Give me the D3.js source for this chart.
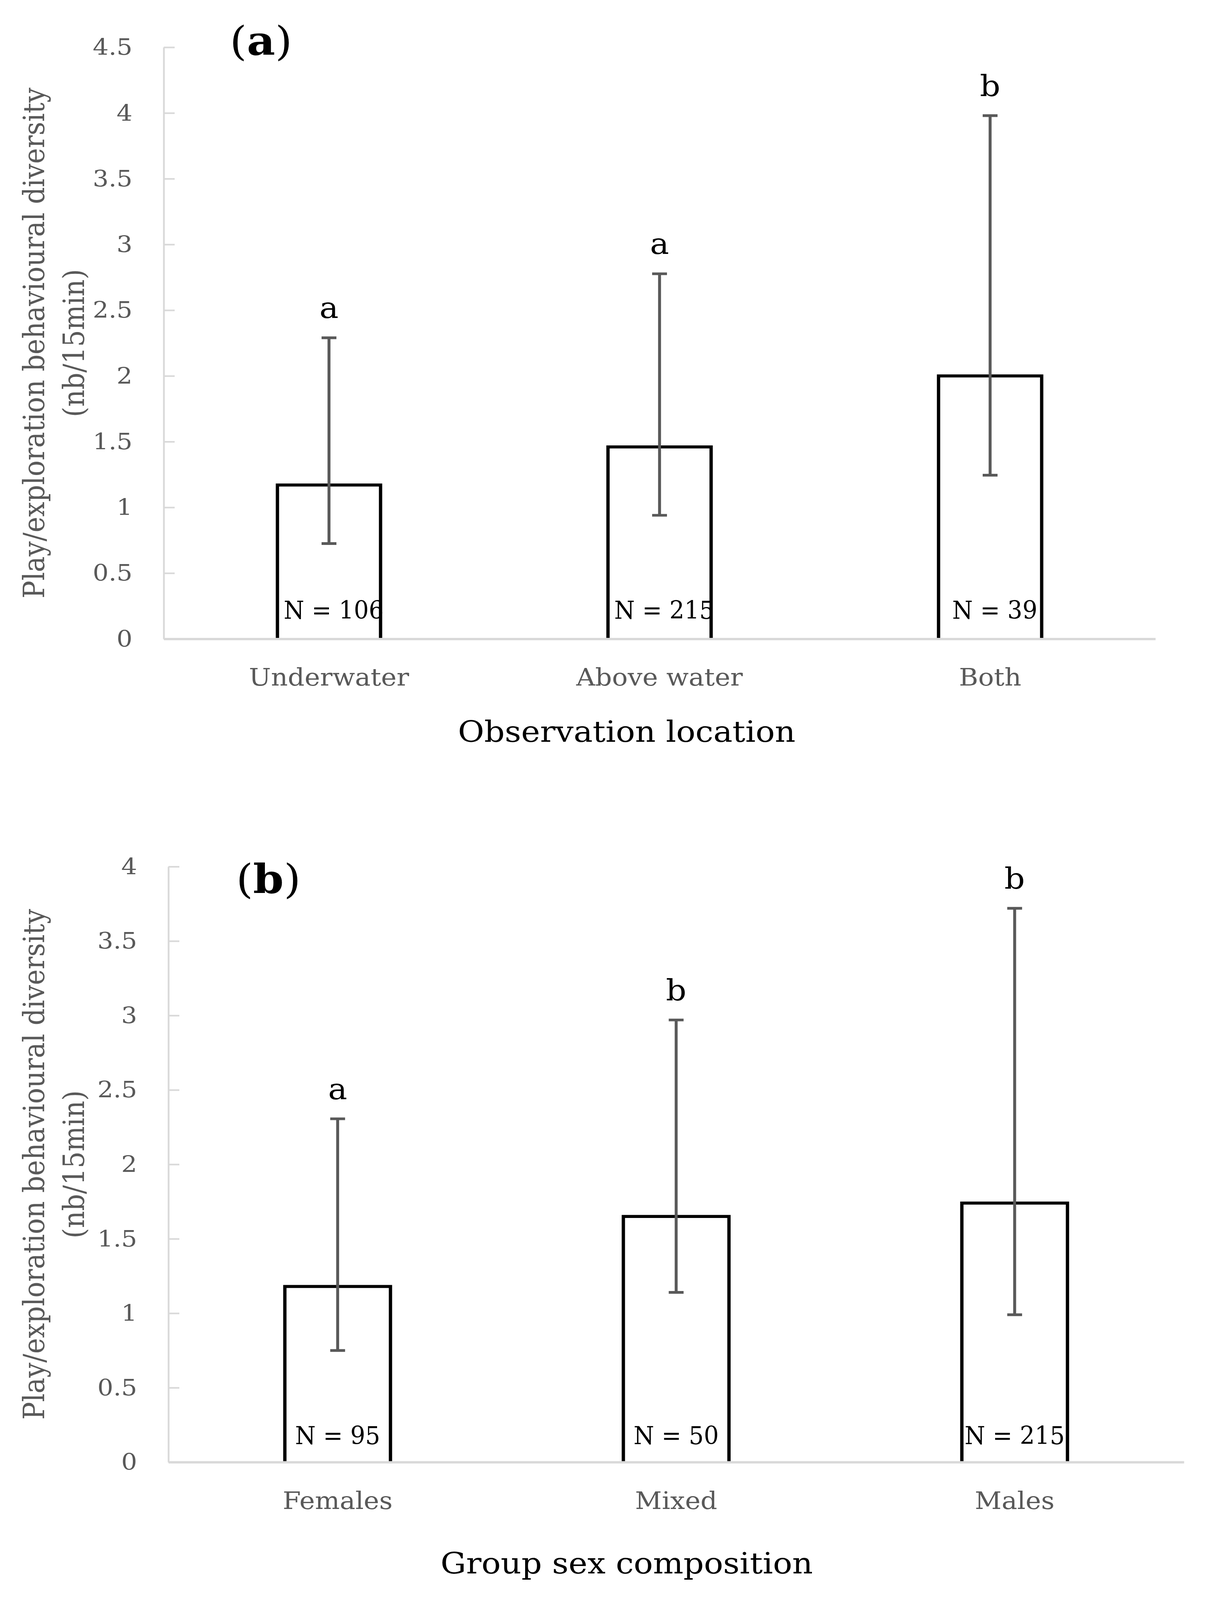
<!DOCTYPE html>
<html>
<head>
<meta charset="utf-8">
<script src="https://cdn.jsdelivr.net/npm/d3@7"></script>
<style>
  html, body { margin: 0; padding: 0; background: #fff; overflow: hidden; }
  svg { display: block; }
</style>
</head>
<body>
<svg id="chart"></svg>
<script>
'use strict';

// Panel (a): observation location
var locationCategories = ['Underwater', 'Above water', 'Both'];
var locationMeans = [1.17, 1.46, 2.0];
var locationLower = [0.725, 0.94, 1.245];
var locationUpper = [2.29, 2.777, 3.98];
var locationN = ['N = 106', 'N = 215', 'N = 39'];
var locationLetters = ['a', 'a', 'b'];
var locationTicks = [0, 0.5, 1, 1.5, 2, 2.5, 3, 3.5, 4, 4.5];

// Panel (b): group sex composition
var sexCategories = ['Females', 'Mixed', 'Males'];
var sexMeans = [1.18, 1.65, 1.74];
var sexLower = [0.75, 1.14, 0.99];
var sexUpper = [2.306, 2.97, 3.72];
var sexN = ['N = 95', 'N = 50', 'N = 215'];
var sexLetters = ['a', 'b', 'b'];
var sexTicks = [0, 0.5, 1, 1.5, 2, 2.5, 3, 3.5, 4];

var yTitleLines = ['Play/exploration behavioural diversity', '(nb/15min)'];

var FONT = "'DejaVu Serif', 'Liberation Serif', serif";
var GREY = '#595959';
var AXIS = '#d9d9d9';
var W = 3107, H = 4468;

// Drawing is laid out on a 3107x4468 canvas and fitted to the window
var svg = d3.select('#chart')
  .attr('width', window.innerWidth || W)
  .attr('height', window.innerHeight || H)
  .attr('viewBox', '0 0 ' + W + ' ' + H)
  .attr('preserveAspectRatio', 'none');
svg.append('rect').attr('width', W).attr('height', H).attr('fill', '#fff');

function drawPanel(cfg) {
  var g = svg.append('g').attr('font-family', FONT);

  var x = d3.scaleBand()
    .domain(cfg.categories)
    .range([cfg.left, cfg.right])
    .paddingInner(0.688)
    .paddingOuter(0.344);

  var y = d3.scaleLinear()
    .domain([0, cfg.yMax])
    .range([cfg.bottom, cfg.top]);

  // Y axis, ticks pointing inward
  var yAxis = g.append('g')
    .attr('transform', 'translate(' + cfg.left + ',0)')
    .call(d3.axisLeft(y)
      .tickValues(cfg.ticks)
      .tickFormat(d3.format('~g'))
      .tickSizeInner(-28)
      .tickSizeOuter(0)
      .tickPadding(80));
  yAxis.attr('font-family', FONT).attr('font-size', 64);
  yAxis.select('.domain').attr('stroke', AXIS).attr('stroke-width', 4.5);
  yAxis.selectAll('.tick line').attr('stroke', AXIS).attr('stroke-width', 4.5);
  yAxis.selectAll('.tick text').attr('fill', GREY);

  var items = cfg.means.map(function(m, i) {
    return {
      label: cfg.categories[i], mean: m,
      lo: cfg.lower[i], hi: cfg.upper[i],
      n: cfg.n[i], letter: cfg.letters[i]
    };
  });

  // BARS (open at the bottom, the axis line closes them)
  g.selectAll('path.bar').data(items).enter().append('path')
    .attr('class', 'bar')
    .attr('d', function(d) {
      var x0 = x(d.label), w = x.bandwidth();
      return 'M' + x0 + ',' + y(0) + 'V' + y(d.mean) + 'H' + (x0 + w) + 'V' + y(0);
    })
    .attr('fill', '#fff')
    .attr('stroke', '#000')
    .attr('stroke-width', 8.5);

  // Error bars
  var err = g.selectAll('g.err').data(items).enter().append('g')
    .attr('class', 'err')
    .attr('stroke', GREY)
    .attr('stroke-width', 7.5);
  var cx = function(d) { return x(d.label) + x.bandwidth() / 2; };
  err.append('line')
    .attr('x1', cx).attr('x2', cx)
    .attr('y1', function(d) { return y(d.lo); })
    .attr('y2', function(d) { return y(d.hi); });
  err.append('line')
    .attr('x1', function(d) { return cx(d) - 19; })
    .attr('x2', function(d) { return cx(d) + 19; })
    .attr('y1', function(d) { return y(d.hi); })
    .attr('y2', function(d) { return y(d.hi); });
  err.append('line')
    .attr('x1', function(d) { return cx(d) - 19; })
    .attr('x2', function(d) { return cx(d) + 19; })
    .attr('y1', function(d) { return y(d.lo); })
    .attr('y2', function(d) { return y(d.lo); });

  // Significance letters
  g.selectAll('text.letter').data(items).enter().append('text')
    .attr('class', 'letter')
    .text(function(d) { return d.letter; })
    .attr('x', cx)
    .attr('y', function(d) { return y(d.hi) - 55; })
    .attr('text-anchor', 'middle')
    .attr('font-size', 82)
    .attr('fill', '#000');

  // Sample sizes, slightly condensed like the original text boxes
  g.selectAll('text.nlab').data(items).enter().append('text')
    .attr('class', 'nlab')
    .text(function(d) { return d.n; })
    .attr('x', function(d) { return cx(d) + cfg.nShift; })
    .attr('y', y(0) - cfg.nOffset)
    .attr('text-anchor', 'middle')
    .attr('font-size', 70)
    .attr('fill', '#000')
    .each(function() {
      var len = this.getComputedTextLength();
      d3.select(this)
        .attr('textLength', len * 0.86)
        .attr('lengthAdjust', 'spacingAndGlyphs');
    });

  // X axis
  var xAxis = g.append('g')
    .attr('transform', 'translate(0,' + cfg.bottom + ')')
    .call(d3.axisBottom(x).tickSize(0).tickSizeOuter(0).tickPadding(83));
  xAxis.attr('font-family', FONT).attr('font-size', 67);
  xAxis.select('.domain').attr('stroke', AXIS).attr('stroke-width', 6.5);
  xAxis.selectAll('.tick text').attr('fill', GREY);

  // Axis titles
  g.append('text')
    .text(cfg.xTitle)
    .attr('x', cfg.xTitleX)
    .attr('y', cfg.xTitleY)
    .attr('text-anchor', 'middle')
    .attr('font-size', 82)
    .attr('fill', '#000');

  var midY = (cfg.top + cfg.bottom) / 2;
  yTitleLines.forEach(function(line, i) {
    g.append('text')
      .text(line)
      .attr('transform', 'translate(' + cfg.yTitleX[i] + ',' + midY + ') rotate(-90)')
      .attr('text-anchor', 'middle')
      .attr('font-size', 74)
      .attr('fill', GREY);
  });

  // Panel tag, e.g. (a)
  var tag = g.append('text')
    .attr('x', cfg.tagX)
    .attr('y', cfg.tagY)
    .attr('text-anchor', 'middle')
    .attr('font-size', 112)
    .attr('fill', '#000');
  tag.append('tspan').text('(');
  tag.append('tspan').attr('font-weight', 'bold').text(cfg.tag);
  tag.append('tspan').text(')');
}

drawPanel({
  categories: locationCategories,
  means: locationMeans,
  lower: locationLower,
  upper: locationUpper,
  n: locationN,
  letters: locationLetters,
  ticks: locationTicks,
  yMax: 4.5,
  left: 419, right: 2957, top: 132, bottom: 1784,
  nOffset: 56, nShift: 12,
  xTitle: 'Observation location',
  xTitleX: 1604, xTitleY: 2072,
  yTitleX: [113, 215],
  tag: 'a', tagX: 668, tagY: 154
});

drawPanel({
  categories: sexCategories,
  means: sexMeans,
  lower: sexLower,
  upper: sexUpper,
  n: sexN,
  letters: sexLetters,
  ticks: sexTicks,
  yMax: 4,
  left: 431, right: 3030, top: 2420, bottom: 4083,
  nOffset: 50, nShift: 0,
  xTitle: 'Group sex composition',
  xTitleX: 1604, xTitleY: 4394,
  yTitleX: [113, 215],
  tag: 'b', tagX: 687, tagY: 2494
});
</script>
</body>
</html>
